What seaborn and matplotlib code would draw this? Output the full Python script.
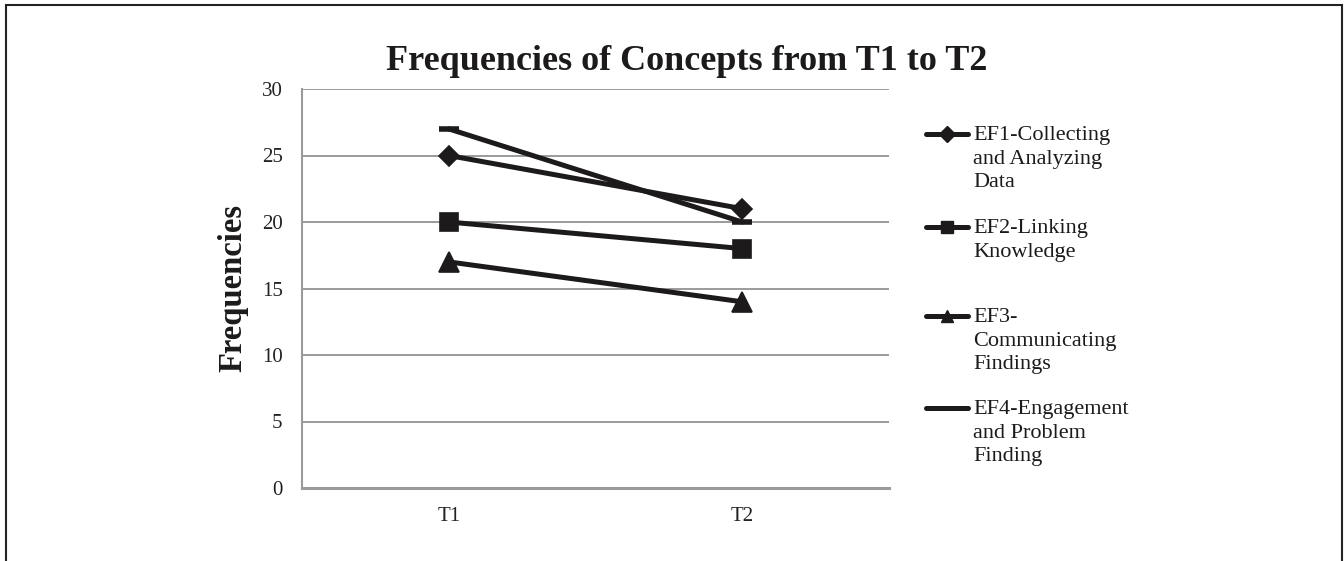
import pandas as pd
import numpy as np
import matplotlib.pyplot as plt
import seaborn as sns
from matplotlib.lines import Line2D
from matplotlib.patches import Rectangle

# Data
times = ['T1', 'T2']
concepts = ['EF1-Collecting and Analyzing Data',
            'EF2-Linking Knowledge',
            'EF3-Communicating Findings',
            'EF4-Engagement and Problem Finding']
legend_labels = ['EF1-Collecting\nand Analyzing\nData',
                 'EF2-Linking\nKnowledge',
                 'EF3-\nCommunicating\nFindings',
                 'EF4-Engagement\nand Problem\nFinding']
ef1 = [25, 21]
ef2 = [20, 18]
ef3 = [17, 14]
ef4 = [27, 20]
yticks = [0, 5, 10, 15, 20, 25, 30]

rows = []
for name, vals in zip(concepts, [ef1, ef2, ef3, ef4]):
    for t, v in zip(times, vals):
        rows.append({'time': t, 'freq': v, 'concept': name})
df = pd.DataFrame(rows)

sns.set_style('white')
plt.rcParams['font.family'] = ['Liberation Serif', 'DejaVu Serif']

ink = '#1c1a1a'
grid = '#9b9b9b'
marker_map = dict(zip(concepts, ['D', 's', '^', 'o']))
size_map = dict(zip(concepts, [10.5, 13.5, 14, 14.5]))

fig = plt.figure(figsize=(13.44, 5.61), dpi=100)
ax = fig.add_axes([302 / 1344, 1 - 488 / 561, 587 / 1344, 399 / 561])

sns.lineplot(data=df, x='time', y='freq', hue='concept', style='concept',
             palette=[ink] * 4, markers=marker_map, dashes=False,
             linewidth=3.6, legend=False, ax=ax)
for line, c in zip(ax.get_lines(), concepts):
    line.set_markersize(size_map[c])
    line.set_markeredgecolor(ink)
    line.set_markeredgewidth(1.2)
    if c == concepts[3]:
        line.set_marker('_')
        line.set_markeredgewidth(4)

ax.set_xlim(-0.5, 1.5)
ax.set_ylim(0, 30)
ax.set_yticks(yticks)
ax.set_xticks([0, 1])
ax.set_xticklabels(times)
ax.yaxis.grid(True, color=grid, linewidth=1.4)
ax.set_axisbelow(True)
ax.tick_params(axis='both', length=0, labelsize=15, colors='#222222')
ax.tick_params(axis='y', pad=14)
ax.tick_params(axis='x', pad=14)
ax.set_xlabel('')
ax.set_ylabel('')
for s in ['top', 'right']:
    ax.spines[s].set_visible(False)
ax.spines['left'].set_color(grid)
ax.spines['left'].set_linewidth(1.5)
ax.spines['bottom'].set_color(grid)
ax.spines['bottom'].set_linewidth(2.2)

fig.text(687 / 1344, 1 - 70 / 561, 'Frequencies of Concepts from T1 to T2',
         ha='center', va='baseline', fontsize=26, fontweight='bold', color=ink)
fig.text(233 / 1344, 1 - 288 / 561, 'Frequencies', rotation=90,
         ha='center', va='center', fontsize=23.5, fontweight='bold', color=ink)

# legend drawn by hand so the marker sits on the first text line
leg_y = [134, 227, 316, 408]
for lab, m, y in zip(legend_labels, ['D', 's', '^', None], leg_y):
    yf = 1 - y / 561
    fig.add_artist(Line2D([926 / 1344, 947 / 1344, 968 / 1344], [yf, yf, yf],
                          color=ink, linewidth=3.6,
                          marker=m if m else 'None', markevery=[1],
                          markersize=8.5, transform=fig.transFigure))
    fig.text(973 / 1344, 1 - (y - 8) / 561, lab, ha='left', va='top',
             fontsize=16, color=ink, linespacing=1.33)

fig.add_artist(Rectangle((6 / 1344, -0.05), 1336 / 1344, 1.05 - 5 / 561,
                         transform=fig.transFigure, fill=False,
                         edgecolor='#222222', linewidth=1.5))

fig.savefig('out.png', dpi=100)
